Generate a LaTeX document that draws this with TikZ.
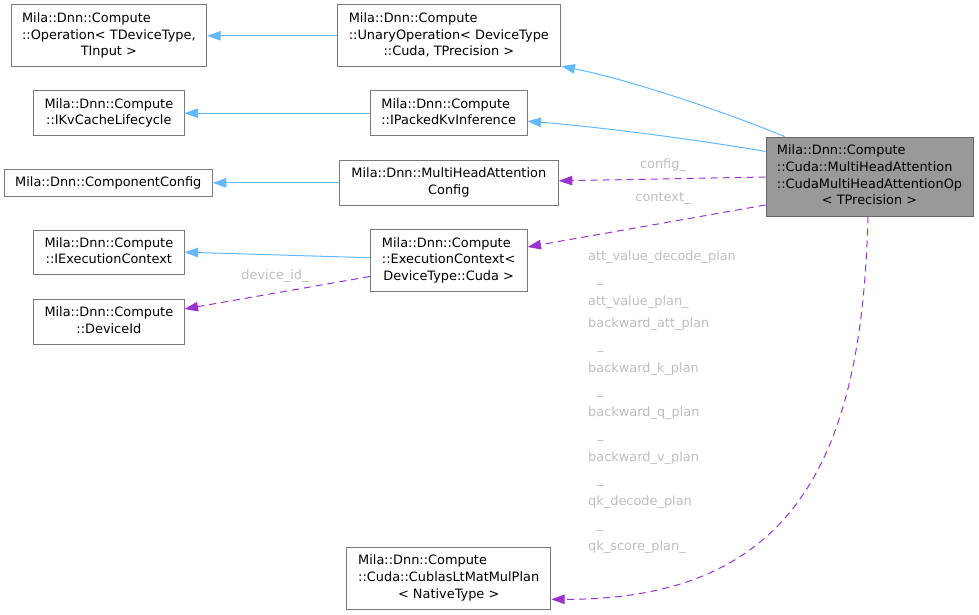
\documentclass[tikz,border=0pt]{standalone}
\usepackage{fontspec}
\setmainfont{DejaVu Sans}
\usetikzlibrary{arrows.meta}
\definecolor{edgeblue}{HTML}{63B8FF}
\definecolor{edgepurple}{HTML}{9A32CD}
\definecolor{boxborder}{HTML}{7A7A7A}
\definecolor{mainborder}{HTML}{666666}
\definecolor{mainfill}{HTML}{999999}
\definecolor{lblgray}{HTML}{BEBEBE}
\newcommand{\dxl}[2]{\begin{tabular}{@{}l@{}}#1\\\multicolumn{1}{@{}c@{}}{#2}\end{tabular}}
\begin{document}
\begin{tikzpicture}[x=1pt,y=-1pt,
  box/.style={draw=boxborder, line width=1pt, fill=white, inner sep=0pt, font=\fontsize{12.9}{16.7}\selectfont},
  mainbox/.style={box, draw=mainborder, fill=mainfill},
  inherit/.style={draw=edgeblue, line width=1pt, -{Triangle[length=13.5pt,width=9.5pt]}},
  usage/.style={draw=edgepurple, line width=1pt, dash pattern=on 7pt off 5pt, -{Triangle[length=13.5pt,width=9.5pt]}},
  elabel/.style={text=lblgray, inner sep=0pt, font=\fontsize{12.9}{16.7}\selectfont}
]
\useasboundingbox (0,0) rectangle (979,615);

\node[box, minimum width=195.7pt, minimum height=61.7pt] (op) at (108.85,35.85)
  {\dxl{Mila::Dnn::Compute\\::Operation< TDeviceType,}{TInput >}};
\node[box, minimum width=222.3pt, minimum height=61.7pt] (unary) at (448.85,35.85)
  {\dxl{Mila::Dnn::Compute\\::UnaryOperation< DeviceType}{::Cuda, TPrecision >}};
\node[box, minimum width=150.3pt, minimum height=45pt] (ikv) at (108.85,113.2)
  {\dxl{Mila::Dnn::Compute}{::IKvCacheLifecycle}};
\node[box, minimum width=156.7pt, minimum height=45pt] (ipacked) at (448.65,113.2)
  {\dxl{Mila::Dnn::Compute}{::IPackedKvInference}};
\node[box, minimum width=208pt, minimum height=27.7pt] (compcfg) at (108.3,182.85)
  {Mila::Dnn::ComponentConfig};
\node[box, minimum width=219pt, minimum height=44.3pt] (mhacfg) at (448.8,182.85)
  {\dxl{Mila::Dnn::MultiHeadAttention}{Config}};
\node[box, minimum width=150.3pt, minimum height=44.3pt] (iexec) at (108.85,252.15)
  {\dxl{Mila::Dnn::Compute}{::IExecutionContext}};
\node[box, minimum width=156.7pt, minimum height=62.4pt] (exec) at (448.65,260.5)
  {\dxl{Mila::Dnn::Compute\\::ExecutionContext<}{DeviceType::Cuda >}};
\node[box, minimum width=150.3pt, minimum height=45pt] (devid) at (108.85,321.5)
  {\dxl{Mila::Dnn::Compute}{::DeviceId}};
\node[box, minimum width=204pt, minimum height=62pt] (cublas) at (448.7,578.3)
  {\dxl{Mila::Dnn::Compute\\::Cuda::CublasLtMatMulPlan}{< NativeType >}};
\node[mainbox, minimum width=207pt, minimum height=79pt] (main) at (869.5,176.5)
  {\dxl{Mila::Dnn::Compute\\::Cuda::MultiHeadAttention\\::CudaMultiHeadAttentionOp}{< TPrecision >}};

% inheritance
\draw[inherit] (unary.west) -- (op.east);
\draw[inherit] (ipacked.west) -- (ikv.east);
\draw[inherit] (mhacfg.west) -- (compcfg.east);
\draw[inherit] ([yshift=2.8pt]exec.west) -- (iexec.east);
\draw[inherit] ([xshift=19pt]main.north west) .. controls (740,118) and (640,82) .. ([xshift=1pt,yshift=1pt]unary.south east);
\draw[inherit] ([yshift=-15pt]main.north west) .. controls (700,140) and (600,127) .. ([yshift=-8pt]ipacked.east);

% usage
\draw[usage] ([yshift=-0.5pt]main.west) -- ([yshift=2pt]mhacfg.east);
\node[elabel] (lconfig) at (663,165.5) {config\_};
\draw[usage] ([yshift=-28.5pt]main.west) -- ([yshift=13.5pt]exec.east);
\node[elabel] (lcontext) at (663,198) {context\_};
\draw[usage] ([yshift=-16pt]exec.west) -- ([yshift=12.5pt]devid.east);
\node[elabel] (ldevice) at (275,276) {device\_id\_};
\draw[usage] ([xshift=-1.5pt]main.south) .. controls (862,450) and (800,600) .. ([yshift=-21pt]cublas.east);
\node[elabel, anchor=north west, align=left, font=\fontsize{12.9}{22.3}\selectfont] (lplans) at (588,250.5)
  {att\_value\_decode\_plan\\
   \hspace*{9pt}\_\\
   att\_value\_plan\_\\
   backward\_att\_plan\\
   \hspace*{9pt}\_\\
   backward\_k\_plan\\
   \hspace*{9pt}\_\\
   backward\_q\_plan\\
   \hspace*{9pt}\_\\
   backward\_v\_plan\\
   \hspace*{9pt}\_\\
   qk\_decode\_plan\\
   \hspace*{9pt}\_\\
   qk\_score\_plan\_};
\end{tikzpicture}
\end{document}
